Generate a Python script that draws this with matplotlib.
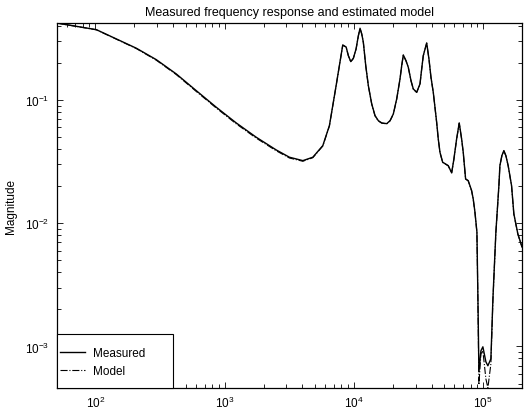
import matplotlib
matplotlib.use("Agg")
import matplotlib.pyplot as plt
from matplotlib.patches import Rectangle
from matplotlib.ticker import LogLocator, NullFormatter

plt.rcParams["font.family"] = ["Liberation Sans", "DejaVu Sans"]
plt.rcParams["mathtext.fontset"] = "custom"
plt.rcParams["mathtext.rm"] = "Liberation Sans"

# frequency grid (Hz)
freq = [50, 101.8, 207.5, 296, 422.6, 603, 861, 1229, 1755, 2505, 3173,
        4029, 4813, 5750, 6467, 7288,
        8204, 8710, 9069, 9464, 9911, 10400, 10835, 11167, 11508, 11839,
        12359, 12944, 13747, 14580, 15465, 16430, 17967, 19049, 20201, 21451,
        22751, 23451, 24125, 25314, 26373, 27676, 28831, 30633, 32486, 33480,
        34440, 36596, 38119, 39505, 41157, 42417, 43717, 44983, 46369, 48645,
        53746, 57100, 59450, 62400, 65360, 68210, 70190, 73220, 76700, 81500,
        83860, 86440, 89560, 91200, 92800, 96170, 99600, 105100, 108900, 114900,
        119100, 125600, 132500, 134880, 139730, 144790, 150040, 156320, 161100,
        166050,
        173000, 185800, 200000]

# measured magnitude
measured = [0.421, 0.3717, 0.2627, 0.2122, 0.1625, 0.1190, 0.0873, 0.0651,
            0.04983, 0.03931, 0.03429, 0.03218, 0.03429, 0.04259, 0.06188,
            0.1306,
            0.2793, 0.2690, 0.2287, 0.2045, 0.2180, 0.2593, 0.3323, 0.3815,
            0.3430, 0.2938,
            0.1898, 0.1306, 0.0928, 0.0746, 0.0679, 0.0651, 0.0642, 0.0679,
            0.0770, 0.1019,
            0.1481, 0.1898, 0.2317, 0.2084, 0.1841, 0.1434, 0.1228, 0.1154,
            0.1349, 0.1784,
            0.2287, 0.2900, 0.2150, 0.1528, 0.1154, 0.0873, 0.0659, 0.0483,
            0.03766, 0.03125,
            0.02932, 0.02559, 0.03322, 0.0483, 0.0651, 0.0483, 0.03766,
            0.02287, 0.02215, 0.01839,
            0.01574, 0.01236, 0.0085, 0.00243, 0.000622, 0.000921, 0.000993,
            0.000750, 0.000697, 0.000794,
            0.00243, 0.0085, 0.02018, 0.02932, 0.03535, 0.03880, 0.03535,
            0.02932, 0.02432, 0.02018,
            0.0119, 0.00819, 0.00643]

# estimated model magnitude
model = [0.421, 0.3705, 0.2610, 0.2100, 0.1605, 0.1172, 0.0860, 0.0640,
         0.04900, 0.03870, 0.03380, 0.03180, 0.03400, 0.04230, 0.06150,
         0.1300,
         0.2780, 0.2680, 0.2280, 0.2040, 0.2170, 0.2580, 0.3310, 0.3800,
         0.3420, 0.2930,
         0.1890, 0.1300, 0.0925, 0.0742, 0.0675, 0.0648, 0.0640, 0.0676,
         0.0766, 0.1015,
         0.1475, 0.1890, 0.2305, 0.2075, 0.1835, 0.1430, 0.1224, 0.1150,
         0.1343, 0.1776,
         0.2280, 0.2885, 0.2140, 0.1520, 0.1150, 0.0868, 0.0656, 0.0481,
         0.03750, 0.03110,
         0.02920, 0.02550, 0.03300, 0.0480, 0.0646, 0.0480, 0.03740,
         0.02280, 0.02205, 0.01830,
         0.01565, 0.01225, 0.0084, 0.00230, 0.000489, 0.000871, 0.000921,
         0.000546, 0.000461, 0.000723,
         0.00235, 0.0084, 0.02005, 0.02915, 0.03520, 0.03860, 0.03520,
         0.02915, 0.02420, 0.02005,
         0.0118, 0.00812, 0.00638]

fig = plt.figure(figsize=(5.25, 4.14), dpi=100)
ax = fig.add_axes([56.5 / 525, 25 / 414, 465.5 / 525, 365 / 414])

ax.loglog(freq, measured, color="black", lw=1.0, ls="-", label="Measured")
ax.loglog(freq, model, color="black", lw=0.8, ls="-.", label="Model")

ax.set_xlim(50, 2e5)
ax.set_ylim(4.6e-4, 0.421)

ax.xaxis.set_major_locator(LogLocator(base=10, numticks=10))
ax.xaxis.set_minor_locator(LogLocator(base=10, subs=range(2, 10), numticks=20))
ax.yaxis.set_major_locator(LogLocator(base=10, numticks=10))
ax.yaxis.set_minor_locator(LogLocator(base=10, subs=range(2, 10), numticks=20))
ax.xaxis.set_minor_formatter(NullFormatter())
ax.yaxis.set_minor_formatter(NullFormatter())

ax.tick_params(which="both", direction="in", top=True, right=True,
               labelsize=8.5, width=0.6, color="black")
ax.tick_params(which="major", length=4.5, pad=5)
ax.tick_params(which="minor", length=3)
for s in ax.spines.values():
    s.set_linewidth(0.9)
    s.set_color("black")

ax.set_title("Measured frequency response and estimated model", fontsize=9,
             pad=6)
ax.set_ylabel("Magnitude", fontsize=8.5, labelpad=6)

# legend: a wide box in the lower-left corner with the entries near its left edge
box_w, box_h = 116 / 465.5, 54 / 365
ax.add_patch(Rectangle((0, 0), box_w, box_h, transform=ax.transAxes,
                       facecolor="white", edgecolor="black", lw=0.8,
                       zorder=4, clip_on=False))
leg = ax.legend(loc="center left", bbox_to_anchor=(3.5 / 465.5, 26 / 365),
                frameon=False, borderpad=0, borderaxespad=0, fontsize=8.5,
                handlelength=2.1, handletextpad=0.7, labelspacing=0.45)
leg.set_zorder(5)

fig.savefig("out.png", dpi=100)
